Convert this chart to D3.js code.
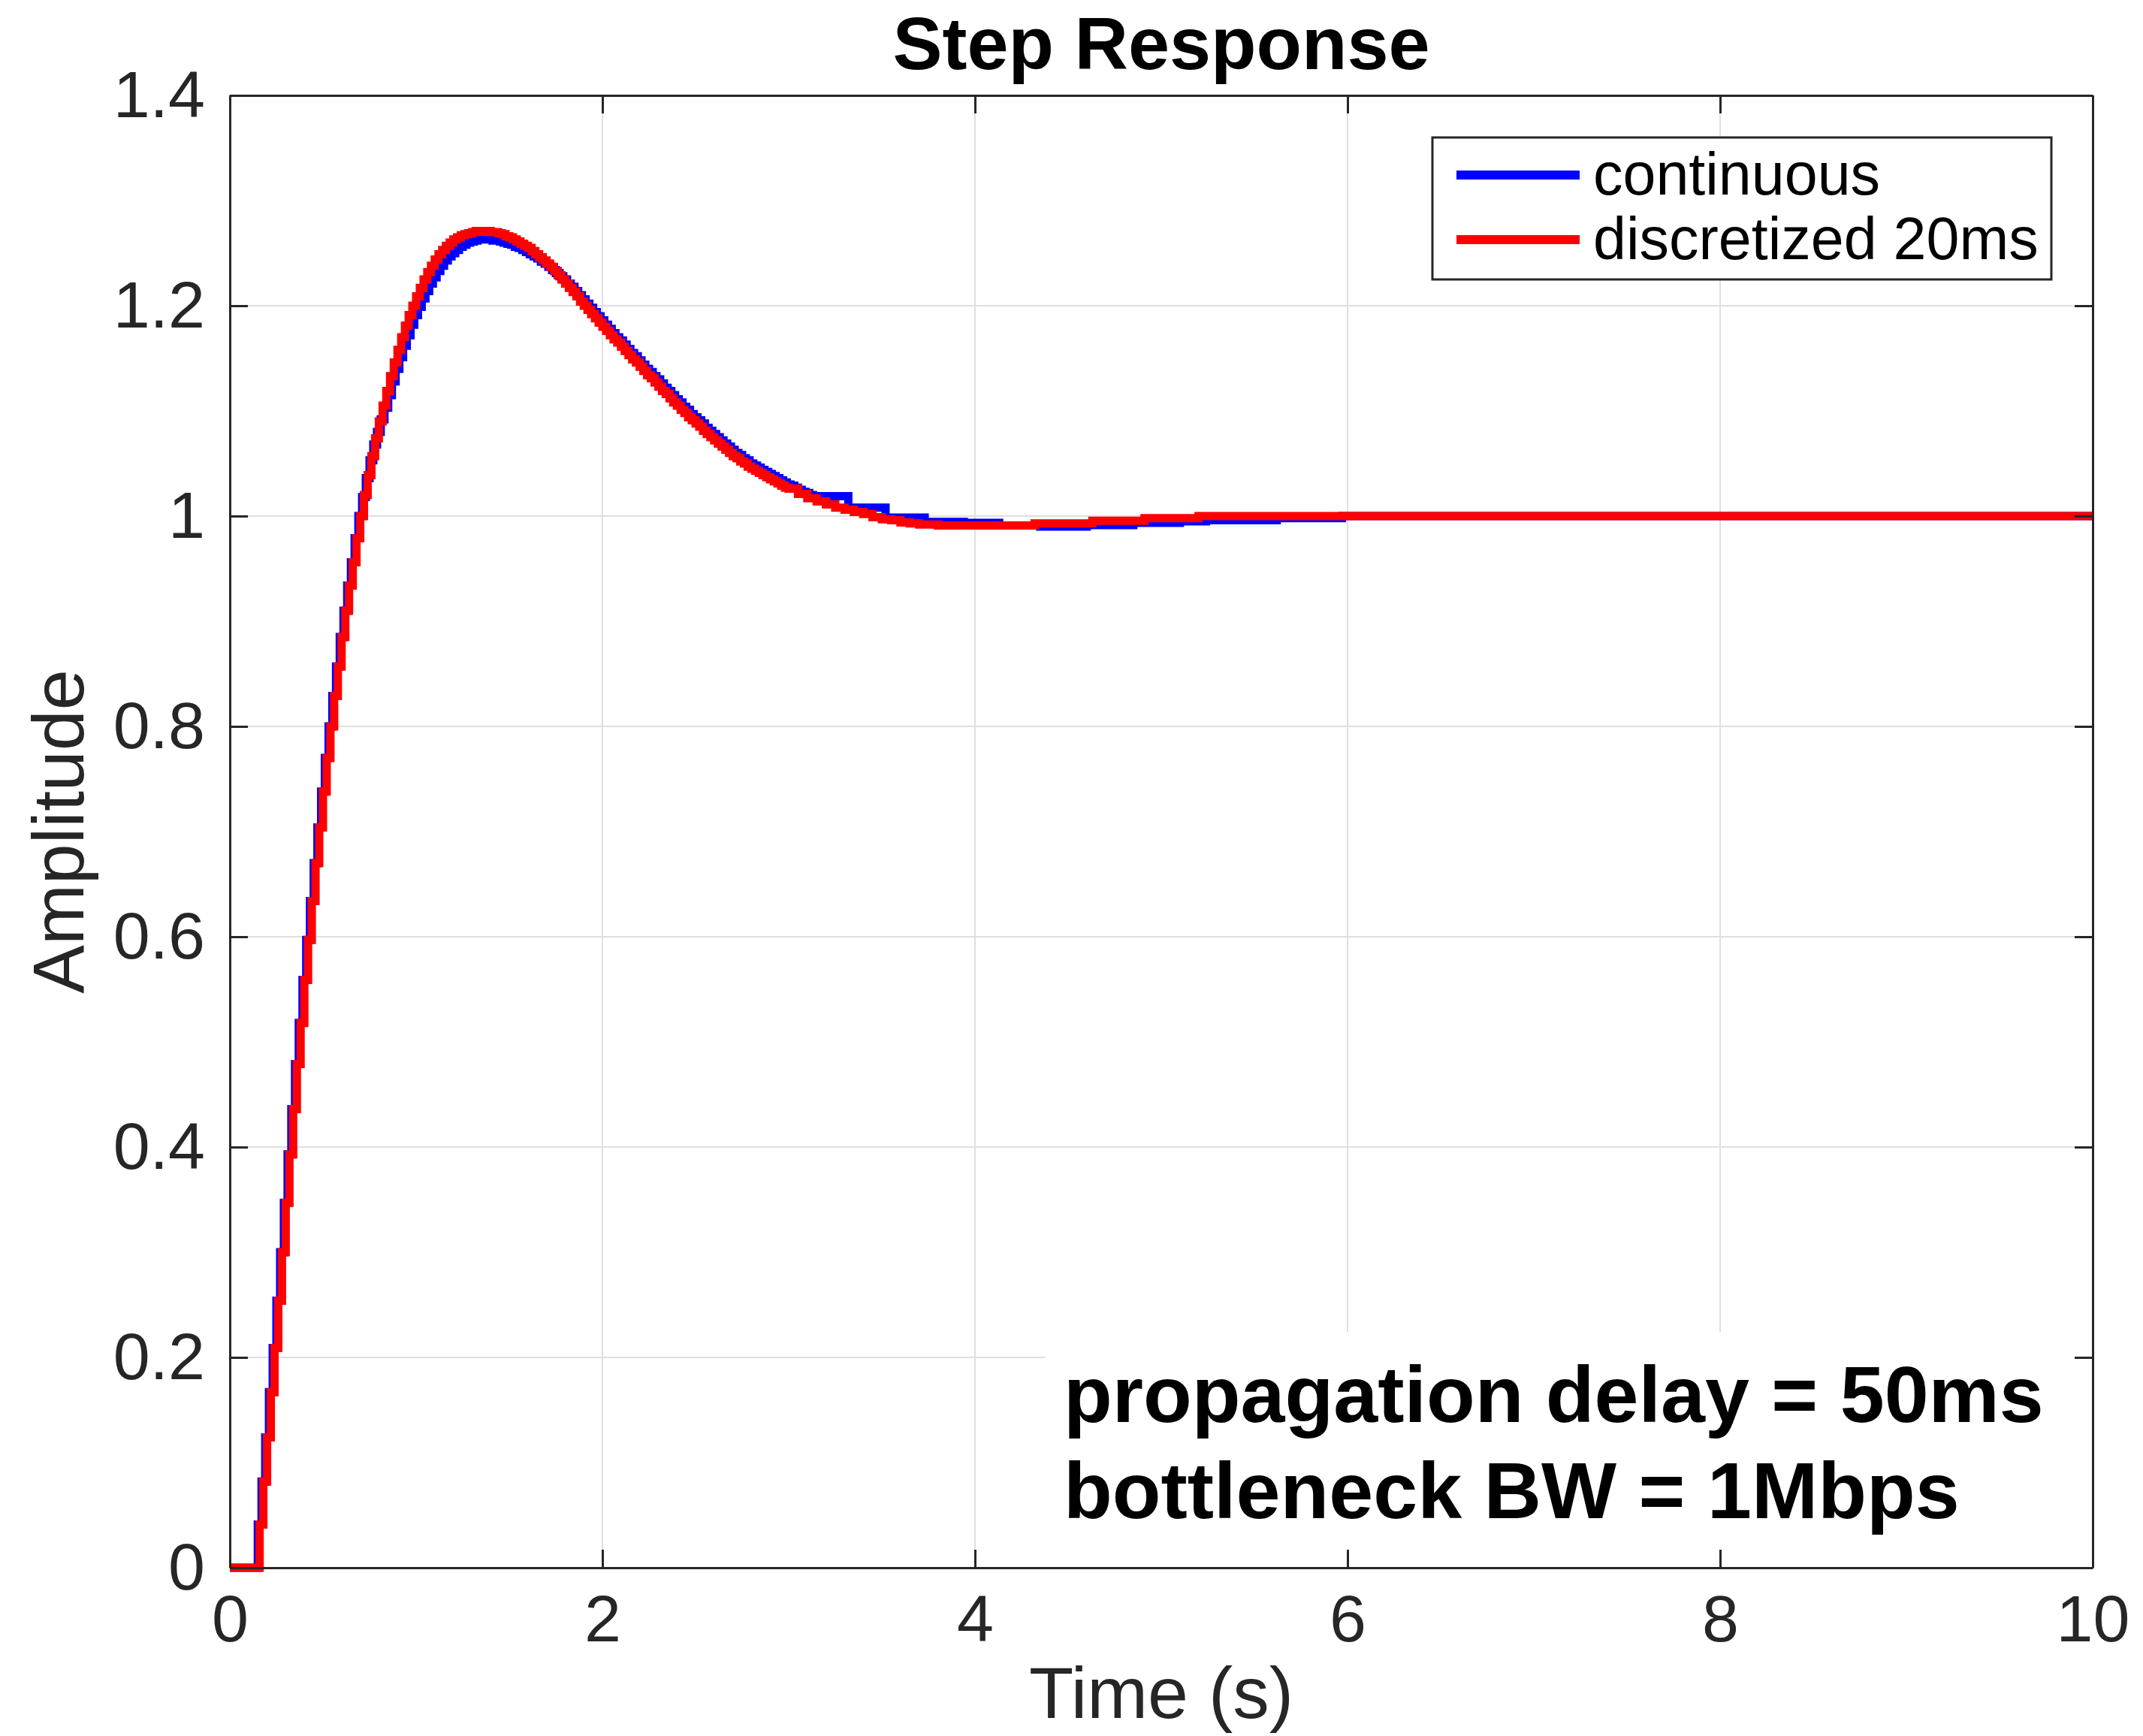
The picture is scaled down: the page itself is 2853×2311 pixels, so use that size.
<!DOCTYPE html>
<html><head><meta charset="utf-8">
<script src="https://cdn.jsdelivr.net/npm/d3@7"></script>
<style>
body{margin:0;background:#fff}
svg{display:block}
text{font-family:"Liberation Sans",Arial,Helvetica,sans-serif}
</style>
</head><body>
<svg id="chart" width="2853" height="2311"></svg>
<script>
// ---------------- data ----------------
const chartTitle = "Step Response";
const xLabel = "Time (s)";
const yLabel = "Amplitude";
const xTicks = [0, 2, 4, 6, 8, 10];
const xTickLabels = ["0", "2", "4", "6", "8", "10"];
const yTicks = [0, 0.2, 0.4, 0.6, 0.8, 1, 1.2, 1.4];
const yTickLabels = ["0", "0.2", "0.4", "0.6", "0.8", "1", "1.2", "1.4"];
const seriesNames = ["continuous", "discretized 20ms"];
const seriesColors = ["#0000ff", "#ff0000"];
const annotationLines = ["propagation delay = 50ms", "bottleneck BW = 1Mbps"];

const sampleTime = 0.02; // 20 ms grid of the fine part of both traces

// discretized (red): zero before first sample, then 20 ms samples from 0.16 s to 3.00 s
const redStart = 0.16;
const redFineAmp = [
 0.041,0.082,0.124,0.167,0.209,0.254,0.300,0.347,0.393,0.436,
 0.479,0.518,0.559,0.597,0.634,0.670,0.704,0.738,0.770,0.800,
 0.829,0.857,0.885,0.910,0.934,0.956,0.979,1.000,1.020,1.039,
 1.057,1.074,1.090,1.105,1.119,1.133,1.146,1.158,1.170,1.181,
 1.191,1.200,1.209,
 1.217,1.225,1.232,1.238,1.244,1.249,1.253,1.257,1.260,1.263,
 1.265,1.267,1.268,1.269,1.270,1.271,1.271,1.271,1.271,1.270,
 1.270,1.269,1.268,1.266,1.265,1.263,1.261,1.259,1.257,1.255,
 1.252,1.249,1.246,1.243,1.240,1.237,1.233,1.229,1.225,1.221,
 1.217,1.213,1.209,1.204,1.200,1.196,1.192,1.188,1.184,1.180,
 1.176,1.172,1.168,1.165,1.161,1.157,1.153,1.149,1.146,1.142,
 1.138,1.134,1.131,1.127,1.123,1.119,1.116,1.112,1.108,1.105,
 1.101,1.098,1.094,1.091,1.088,1.085,1.081,1.078,1.075,1.072,
 1.069,1.066,1.063,1.060,1.057,1.055,1.052,1.050,1.047,1.045,
 1.043,1.041,1.039,1.037,1.035,1.033,1.031,1.029,1.027,1.026
];
const redTailTime = [3.05,3.10,3.15,3.20,3.25,3.30,3.35,3.40,3.45,3.50,3.55,3.60,3.65,3.70,3.75,3.80,3.85,3.90,3.95,4.00,4.32,4.63,4.91,5.20,10];
const redTailAmp  = [1.021,1.017,1.014,1.011,1.008,1.006,1.004,1.002,0.999,0.997,0.996,0.994,0.993,0.992,0.992,0.991,0.991,0.991,0.991,0.991,0.993,0.9955,0.998,1.000,1.000];

// continuous (blue): 20 ms samples from 0.15 s to 3.11 s, then coarser steps
const blueStart = 0.15;
const blueFineAmp = [
 0.041,0.082,0.124,0.167,0.209,0.254,0.300,0.347,0.393,0.436,
 0.479,0.518,0.559,0.597,0.634,0.670,0.704,0.738,0.770,0.800,
 0.829,0.857,0.885,0.910,0.934,0.956,0.979,1.000,1.018,1.036,
 1.053,1.068,1.080,1.092,1.103,1.115,1.128,1.140,1.151,1.162,
 1.172,1.182,1.191,1.199,1.207,1.214,1.221,1.227,1.233,1.238,
 1.243,1.247,1.250,1.253,1.256,1.258,1.260,1.261,1.262,1.263,
 1.263,1.263,1.263,1.262,
 1.262,1.261,1.260,1.259,1.258,1.256,1.255,1.253,1.251,1.249,
 1.247,1.245,1.242,1.240,1.237,1.234,1.231,1.228,1.225,1.221,
 1.218,1.214,1.210,1.206,1.202,1.198,1.194,1.190,1.186,1.182,
 1.178,1.174,1.170,1.167,1.163,1.159,1.155,1.152,1.148,1.144,
 1.140,1.137,1.133,1.130,1.126,1.122,1.119,1.115,1.111,1.108,
 1.104,1.101,1.097,1.094,1.091,1.088,1.084,1.081,1.078,1.075,
 1.072,1.069,1.066,1.063,1.060,1.058,1.055,1.053,1.050,1.048,
 1.046,1.044,1.042,1.040,1.038,1.036,1.034,1.032,1.030,1.029,
 1.027,1.025,1.023,1.022,1.020
];
const blueTailTime = [3.13,3.32,3.52,3.73,3.94,4.13,4.35,4.60,4.85,5.10,5.24,5.62,5.97,10];
const blueTailAmp  = [1.019,1.008,0.9985,0.9945,0.9935,0.991,0.990,0.9915,0.9936,0.995,0.996,0.998,1.000,1.000];

// ---------------- layout ----------------
const W = 2853, H = 2311;
const plot = {left: 306, right: 2786, top: 127, bottom: 2087};
const axisColor = "#262626";
const gridColor = "#dfdfdf";
const tickFont = 88, labelFont = 97, legendFont = 79, noteFont = 106;

const svg = d3.select("#chart");
svg.append("rect").attr("width", W).attr("height", H).attr("fill", "#fff");

const x = d3.scaleLinear().domain([0, 10]).range([plot.left, plot.right]);
const y = d3.scaleLinear().domain([0, 1.4]).range([plot.bottom, plot.top]);

function buildSeries(start, fine, tailT, tailA) {
  const pts = [[0, 0]];
  fine.forEach((a, i) => pts.push([+(start + i * sampleTime).toFixed(4), a]));
  tailT.forEach((t, i) => pts.push([t, tailA[i]]));
  return pts;
}
const blueData = buildSeries(blueStart, blueFineAmp, blueTailTime, blueTailAmp);
const redData = buildSeries(redStart, redFineAmp, redTailTime, redTailAmp);

// grid
const grid = svg.append("g");
grid.selectAll("line.vx").data(xTicks.slice(1, -1)).enter().append("line")
  .attr("x1", d => x(d)).attr("x2", d => x(d))
  .attr("y1", plot.top).attr("y2", plot.bottom)
  .attr("stroke", gridColor).attr("stroke-width", 2);
grid.selectAll("line.hy").data(yTicks.slice(1, -1)).enter().append("line")
  .attr("y1", d => y(d)).attr("y2", d => y(d))
  .attr("x1", plot.left).attr("x2", plot.right)
  .attr("stroke", gridColor).attr("stroke-width", 2);

// series
const line = d3.line().x(d => x(d[0])).y(d => y(d[1])).curve(d3.curveStepAfter);
[blueData, redData].forEach((data, i) => {
  svg.append("path").datum(data).attr("d", line)
    .attr("fill", "none").attr("stroke", seriesColors[i])
    .attr("stroke-width", 11).attr("stroke-linejoin", "miter").attr("stroke-linecap", "butt");
});

// annotation with white background
const noteBox = {x: 1392, y: 1773};
svg.append("rect").attr("x", noteBox.x).attr("y", noteBox.y)
  .attr("width", plot.right - noteBox.x).attr("height", plot.bottom - noteBox.y)
  .attr("fill", "#fff");
svg.selectAll("text.note").data(annotationLines).enter().append("text")
  .attr("x", 1416).attr("y", (d, i) => 1893 + i * 128)
  .attr("font-size", noteFont).attr("font-weight", "bold").attr("fill", "#000")
  .text(d => d);

// axes (ticks inward on all four sides)
function styleAxis(g) {
  g.select(".domain").attr("stroke", axisColor).attr("stroke-width", 3);
  g.selectAll(".tick line").attr("stroke", axisColor).attr("stroke-width", 3);
  g.selectAll(".tick text").attr("fill", axisColor).attr("font-size", tickFont)
    .attr("font-family", "'Liberation Sans', Arial, Helvetica, sans-serif");
}
svg.append("g").attr("transform", `translate(0,${plot.bottom})`)
  .call(d3.axisBottom(x).tickValues(xTicks).tickFormat((d, i) => xTickLabels[i])
    .tickSizeInner(-24).tickSizeOuter(0).tickPadding(36))
  .call(styleAxis);
svg.append("g").attr("transform", `translate(0,${plot.top})`)
  .call(d3.axisTop(x).tickValues(xTicks).tickFormat("").tickSizeInner(-24).tickSizeOuter(0))
  .call(styleAxis);
svg.append("g").attr("transform", `translate(${plot.left},0)`)
  .call(d3.axisLeft(y).tickValues(yTicks).tickFormat((d, i) => yTickLabels[i])
    .tickSizeInner(-24).tickSizeOuter(0).tickPadding(33))
  .call(styleAxis);
svg.append("g").attr("transform", `translate(${plot.right},0)`)
  .call(d3.axisRight(y).tickValues(yTicks).tickFormat("").tickSizeInner(-24).tickSizeOuter(0))
  .call(styleAxis);

// title & labels
svg.append("text").attr("x", (plot.left + plot.right) / 2).attr("y", 92)
  .attr("text-anchor", "middle").attr("font-size", labelFont + 2).attr("font-weight", "bold")
  .attr("fill", "#000").text(chartTitle);
svg.append("text").attr("x", (plot.left + plot.right) / 2).attr("y", 2287)
  .attr("text-anchor", "middle").attr("font-size", labelFont).attr("fill", axisColor).text(xLabel);
svg.append("text")
  .attr("transform", `translate(111,${(plot.top + plot.bottom) / 2}) rotate(-90)`)
  .attr("text-anchor", "middle").attr("font-size", labelFont).attr("fill", axisColor).text(yLabel);

// legend
const lg = {x: 1907, y: 183, w: 824, h: 189};
svg.append("rect").attr("x", lg.x).attr("y", lg.y).attr("width", lg.w).attr("height", lg.h)
  .attr("fill", "#fff").attr("stroke", axisColor).attr("stroke-width", 3);
const legendRows = [233, 319];
seriesNames.forEach((name, i) => {
  svg.append("line").attr("x1", 1939).attr("x2", 2103)
    .attr("y1", legendRows[i]).attr("y2", legendRows[i])
    .attr("stroke", seriesColors[i]).attr("stroke-width", 12);
  svg.append("text").attr("x", 2121).attr("y", legendRows[i] + 26)
    .attr("font-size", legendFont).attr("fill", "#000").text(name);
});
</script>
</body></html>
